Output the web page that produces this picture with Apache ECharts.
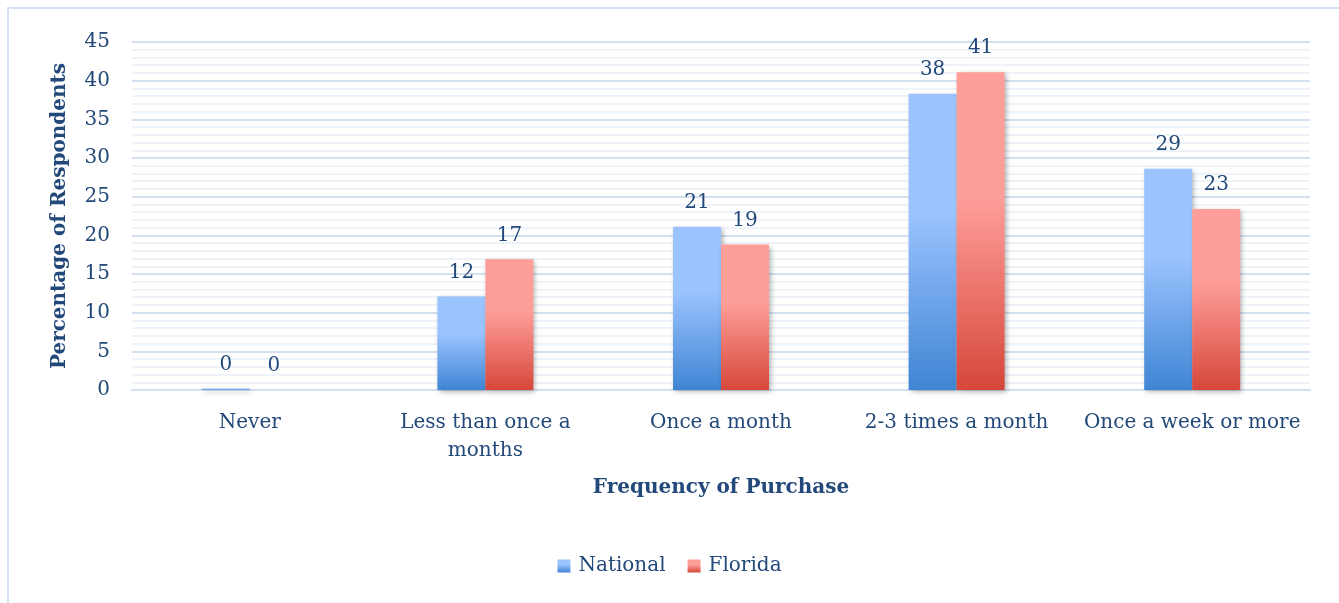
<!DOCTYPE html>
<html>
<head>
<meta charset="utf-8">
<script src="https://cdn.jsdelivr.net/npm/echarts@6/dist/echarts.min.js"></script>
<style>
  html, body { margin: 0; padding: 0; background: #fff; }
  #frame { position: absolute; left: 7px; top: 7px; width: 1400px; height: 700px; border: 2px solid #d6e2f1; box-sizing: border-box; }
  #chart { position: absolute; left: 0; top: 0; width: 1339px; height: 603px; }
</style>
</head>
<body>
<div id="frame"></div>
<div id="chart"></div>
<script>
// 购买频率
var categories = ['Never', 'Less than once a\nmonths', 'Once a month', '2-3 times a month', 'Once a week or more'];
var national = [0.2, 12.1, 21.1, 38.3, 28.6];
var florida = [0, 16.9, 18.8, 41.1, 23.4];
var yTicks = [0, 5, 10, 15, 20, 25, 30, 35, 40, 45];

var textColor = '#23497a';
var font = 'DejaVu Serif';

function grad(top, bottom){
	return new echarts.graphic.LinearGradient(0, 0, 0, 1, [
		{offset: 0, color: top},
		{offset: 0.4, color: top},
		{offset: 1, color: bottom}
	]);
}
var blue = grad('#9bc3fe', '#3f85d4');
var red = grad('#fe9e99', '#d6473a');

var chart = echarts.init(document.getElementById('chart'));
var labelOpt = {
	show: true,
	position: 'top',
	distance: 14,
	color: textColor,
	fontFamily: font,
	fontSize: 20,
	formatter: function(p){ return Math.round(p.value); }
};
var option = {
	animation: false,
	textStyle: {fontFamily: font},
	grid: {left: 132, right: 29, top: 42, bottom: 213},
	legend: {
		bottom: 22,
		left: 'center',
		itemWidth: 13,
		itemHeight: 13,
		itemGap: 22,
		icon: 'rect',
		textStyle: {color: textColor, fontFamily: font, fontSize: 20, padding: [0, 0, 0, 3]},
		data: ['National', 'Florida']
	},
	xAxis: {
		type: 'category',
		data: categories,
		name: 'Frequency of Purchase',
		nameLocation: 'middle',
		nameGap: 88,
		nameTextStyle: {color: textColor, fontFamily: font, fontSize: 20, fontWeight: 'bold'},
		axisLine: {lineStyle: {color: '#d3e0f0', width: 2}},
		axisTick: {show: false},
		axisLabel: {color: textColor, fontFamily: font, fontSize: 20, margin: 19, lineHeight: 28, interval: 0}
	},
	yAxis: {
		type: 'value',
		min: yTicks[0],
		max: yTicks[yTicks.length - 1],
		interval: 5,
		name: 'Percentage of Respondents',
		nameLocation: 'middle',
		nameGap: 62,
		nameTextStyle: {color: textColor, fontFamily: font, fontSize: 20, fontWeight: 'bold'},
		axisLine: {show: false},
		axisTick: {show: false},
		axisLabel: {color: textColor, fontFamily: font, fontSize: 20, margin: 22},
		splitLine: {lineStyle: {color: '#d3e0f0', width: 2}},
		minorTick: {show: false, splitNumber: 5},
		minorSplitLine: {show: true, lineStyle: {color: '#eef3fa', width: 2}}
	},
	series: [
		{
			name: 'National',
			type: 'bar',
			data: national,
			barWidth: 48,
			barGap: '0%',
			itemStyle: {color: blue, shadowColor: 'rgba(0,0,0,0.3)', shadowBlur: 5, shadowOffsetX: 2, shadowOffsetY: 2},
			label: labelOpt
		},
		{
			name: 'Florida',
			type: 'bar',
			data: florida,
			barWidth: 48,
			itemStyle: {color: red, shadowColor: 'rgba(0,0,0,0.3)', shadowBlur: 5, shadowOffsetX: 2, shadowOffsetY: 2},
			label: labelOpt
		}
	]
};
chart.setOption(option);
</script>
</body>
</html>
